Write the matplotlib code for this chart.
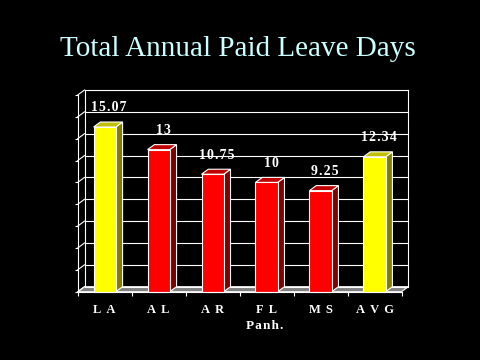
import matplotlib
matplotlib.use("Agg")
import matplotlib.pyplot as plt
from matplotlib.patches import Polygon

categories = ["L A", "A L", "A R", "F L", "M S", "A V G"]
values = [15.07, 13, 10.75, 10, 9.25, 12.34]
value_labels = ["15.07", "13", "10.75", "10", "9.25", "12.34"]
bar_kind = ["avg", "state", "state", "state", "state", "avg"]
title = "Total Annual Paid Leave Days"
xlabel = "Panh."

colors = {
    "avg": ("#FFFF00", "#808000", "#C0C000"),
    "state": ("#FF0000", "#800000", "#C00000"),
}

HAIR = "\u200a"
def spaced(s):
    return HAIR.join(s)

serif = ["Liberation Serif", "DejaVu Serif"]

W, H = 480, 360
fig = plt.figure(figsize=(4.8, 3.6), dpi=100, facecolor="black")
left_px, right_px, bot_px, top_px = 77.7, 401.5, 291.7, 95.0
ax = fig.add_axes([left_px / W, (H - bot_px) / H, (right_px - left_px) / W,
                   (bot_px - top_px) / H])
ax.set_facecolor("none")
ymax = 18
ax.set_xlim(-0.5, 5.5)
ax.set_ylim(0, ymax)

px_per_x = (right_px - left_px) / 6
px_per_y = (bot_px - top_px) / ymax
dx = 6.8 / px_per_x
dy = 5.0 / px_per_y
lw = 0.8

# floor
floor = Polygon([(-0.5, 0), (5.5, 0), (5.5 + dx, dy), (-0.5 + dx, dy)],
                closed=True, facecolor="#808080", edgecolor="white", lw=lw,
                clip_on=False, zorder=1)
ax.add_patch(floor)

# back wall grid + side wall
for g in range(0, ymax + 1, 2):
    ax.plot([-0.5 + dx, 5.5 + dx], [g + dy, g + dy], color="white", lw=lw,
            clip_on=False, zorder=1.5)
    ax.plot([-0.5, -0.5 + dx], [g, g + dy], color="white", lw=lw,
            clip_on=False, zorder=1.5)
ax.plot([-0.5 + dx, -0.5 + dx], [dy, ymax + dy], color="white", lw=lw,
        clip_on=False, zorder=1.5)
ax.plot([5.5 + dx, 5.5 + dx], [dy, ymax + dy], color="white", lw=lw,
        clip_on=False, zorder=1.5)

# bars
bw = 22.2 / px_per_x
for i, (v, k) in enumerate(zip(values, bar_kind)):
    front, side, top = colors[k]
    x0, x1 = i - bw / 2, i + bw / 2
    ax.add_patch(Polygon([(x1, 0), (x1 + dx, dy), (x1 + dx, v + dy), (x1, v)],
                         closed=True, facecolor=side, edgecolor="white", lw=lw,
                         clip_on=False, zorder=3))
    ax.add_patch(Polygon([(x0, v), (x1, v), (x1 + dx, v + dy), (x0 + dx, v + dy)],
                         closed=True, facecolor=top, edgecolor="white", lw=lw,
                         clip_on=False, zorder=3))
ax.bar(range(len(values)), values, width=bw, color=[colors[k][0] for k in bar_kind],
       edgecolor="white", linewidth=lw, zorder=4, clip_on=False)

for i, (v, lab) in enumerate(zip(values, value_labels)):
    ax.text(i + dx / 2 + 0.02, v + 1.75, spaced(lab), ha="center", va="center",
            color="white", fontsize=10, fontweight="bold",
            family=serif, zorder=5)

# axes
for s in ("top", "right"):
    ax.spines[s].set_visible(False)
for s in ("left", "bottom"):
    ax.spines[s].set_color("white")
    ax.spines[s].set_linewidth(lw)
    ax.spines[s].set_zorder(4.5)
ax.set_yticks(range(0, ymax + 1, 2))
ax.set_yticklabels([])
ax.tick_params(axis="y", colors="white", length=2, width=lw, direction="out")
ax.set_xticks(range(len(categories)))
ax.set_xticklabels([spaced(c) for c in categories], color="white", fontsize=9,
                   fontweight="bold", family=serif)
ax.set_xticks([i - 0.5 for i in range(len(categories) + 1)], minor=True)
ax.tick_params(axis="x", which="major", length=0, pad=9)
ax.tick_params(axis="x", which="minor", colors="white", length=3, width=lw,
               direction="out")
ax.set_xlabel(spaced(xlabel), color="white", fontsize=9.5, fontweight="bold",
              family=serif, va="center")
ax.xaxis.set_label_coords((265 - left_px) / (right_px - left_px),
                          -(325.7 - bot_px) / (bot_px - top_px))

fig.text(237.5 / W, (H - 56) / H, title, ha="center", va="baseline",
         color="#CCFFFF", fontsize=21, family=serif)

fig.savefig("out.png", dpi=100, facecolor="black")
